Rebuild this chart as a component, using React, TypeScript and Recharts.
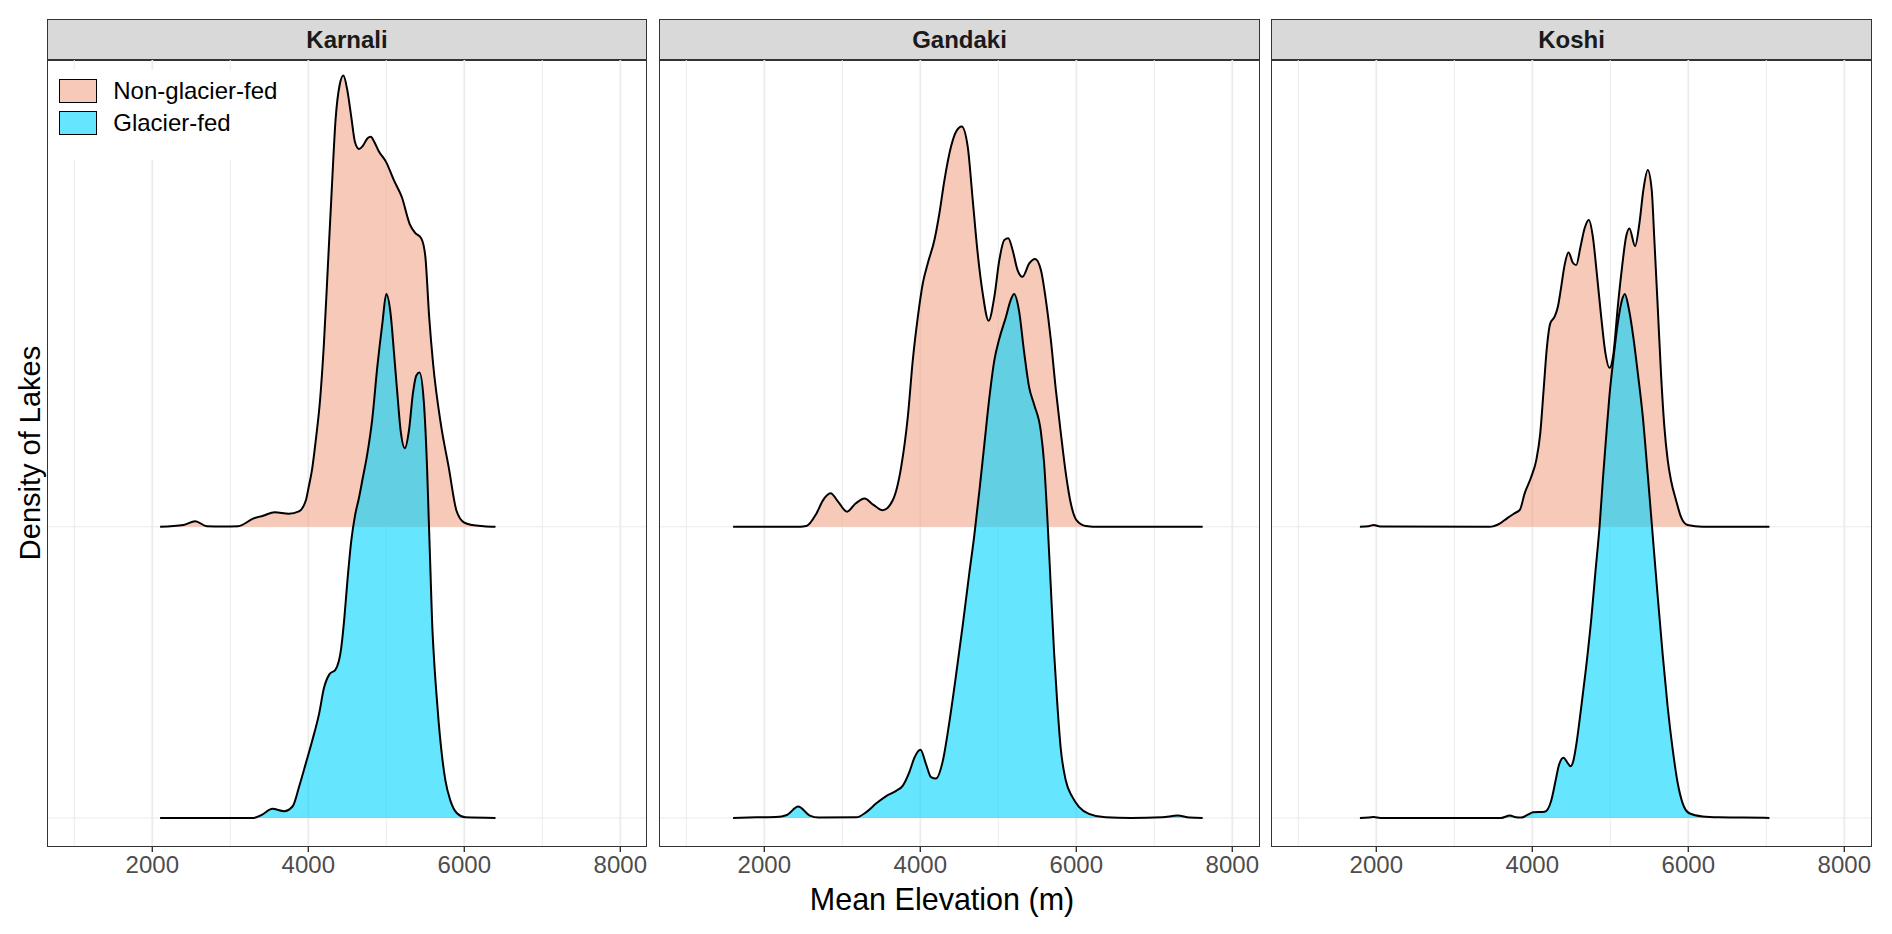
import { ComposedChart, Area, XAxis, YAxis, CartesianGrid } from 'recharts';

const FONT = 'Arial, "Liberation Sans", Helvetica, sans-serif';
const NON_GLACIER = '#F0A58A';
const GLACIER = '#00D4FF';
const FILL_ALPHA = 0.6;

// [elevation (m), scaled density]
const KARNALI_NON_GLACIER: [number, number][] = [
  [2100, 0], [2400, 0.006], [2550, 0.019], [2700, 0.002], [2900, 0.001], [3100, 0.002],
  [3300, 0.029], [3420, 0.038], [3570, 0.05], [3750, 0.045], [3880, 0.053], [3970, 0.092],
  [4000, 0.13], [4050, 0.2], [4100, 0.307], [4150, 0.433], [4200, 0.628], [4250, 0.89],
  [4300, 1.155], [4350, 1.4], [4400, 1.515], [4450, 1.55], [4500, 1.5], [4550, 1.41],
  [4600, 1.32], [4650, 1.298], [4700, 1.309], [4760, 1.335], [4800, 1.34], [4850, 1.32],
  [4900, 1.292], [5000, 1.252], [5100, 1.189], [5200, 1.132], [5300, 1.04], [5370, 1.01],
  [5450, 0.99], [5500, 0.93], [5550, 0.72], [5600, 0.56], [5700, 0.352], [5800, 0.205],
  [5900, 0.055], [6000, 0.014], [6100, 0.006], [6250, 0.002], [6400, 0],
];
const KARNALI_GLACIER: [number, number][] = [
  [2100, 0], [3300, 0], [3400, 0.01], [3540, 0.031], [3690, 0.023], [3800, 0.04],
  [3880, 0.105], [3970, 0.189], [4050, 0.265], [4140, 0.36], [4200, 0.445], [4270, 0.493],
  [4350, 0.51], [4420, 0.58], [4460, 0.68], [4500, 0.81], [4550, 0.95], [4600, 1.04],
  [4650, 1.1], [4700, 1.17], [4750, 1.24], [4820, 1.37], [4885, 1.55], [4950, 1.7],
  [5000, 1.8], [5056, 1.73], [5098, 1.6], [5141, 1.46], [5184, 1.33], [5238, 1.27],
  [5290, 1.33], [5342, 1.46], [5385, 1.52], [5426, 1.53], [5481, 1.43], [5523, 1.2],
  [5545, 1.02], [5566, 0.85], [5587, 0.675], [5609, 0.56], [5638, 0.443], [5672, 0.327],
  [5715, 0.211], [5757, 0.13], [5821, 0.06], [5906, 0.016], [6013, 0.002], [6400, 0],
];

const GANDAKI_NON_GLACIER: [number, number][] = [
  [1600, 0], [2400, 0], [2540, 0.003], [2667, 0.045], [2750, 0.09], [2850, 0.115],
  [2950, 0.085], [3060, 0.052], [3170, 0.08], [3286, 0.097], [3400, 0.075], [3520, 0.057],
  [3648, 0.092], [3755, 0.206], [3840, 0.378], [3904, 0.573], [3968, 0.72], [4032, 0.836],
  [4096, 0.905], [4181, 0.985], [4245, 1.077], [4309, 1.19], [4394, 1.306], [4458, 1.357],
  [4531, 1.375], [4608, 1.306], [4672, 1.123], [4736, 0.939], [4800, 0.802], [4876, 0.708],
  [4949, 0.79], [5013, 0.916], [5077, 0.985], [5128, 0.991], [5183, 0.951], [5247, 0.882],
  [5311, 0.859], [5397, 0.905], [5473, 0.92], [5546, 0.882], [5610, 0.779], [5674, 0.641],
  [5738, 0.47], [5802, 0.321], [5866, 0.183], [5930, 0.08], [6002, 0.023], [6121, 0.003],
  [6300, 0], [7620, 0],
];
const GANDAKI_GLACIER: [number, number][] = [
  [1600, 0], [1900, 0.002], [2150, 0.003], [2290, 0.01], [2434, 0.039], [2583, 0.008],
  [2700, 0.001], [3180, 0.002], [3308, 0.02], [3436, 0.05], [3563, 0.075], [3691, 0.093],
  [3776, 0.111], [3862, 0.159], [3925, 0.207], [4002, 0.234], [4075, 0.183], [4138, 0.14],
  [4200, 0.135], [4288, 0.195], [4373, 0.33], [4458, 0.49], [4543, 0.66], [4628, 0.84],
  [4692, 0.97], [4756, 1.12], [4820, 1.28], [4884, 1.44], [4948, 1.57], [5012, 1.645],
  [5097, 1.72], [5161, 1.78], [5203, 1.8], [5267, 1.74], [5331, 1.6], [5395, 1.48],
  [5459, 1.42], [5544, 1.33], [5587, 1.22], [5629, 1.03], [5672, 0.8], [5715, 0.57],
  [5757, 0.39], [5800, 0.24], [5864, 0.13], [5949, 0.072], [6034, 0.038], [6162, 0.014],
  [6375, 0.002], [6700, 0], [7100, 0.002], [7300, 0.008], [7450, 0.001], [7620, 0],
];

const KOSHI_NON_GLACIER: [number, number][] = [
  [1790, 0], [1900, 0.002], [1966, 0.006], [2050, 0.001], [3450, 0], [3582, 0.011],
  [3680, 0.03], [3776, 0.047], [3840, 0.058], [3902, 0.115], [3987, 0.172], [4051, 0.229],
  [4102, 0.321], [4145, 0.47], [4188, 0.619], [4230, 0.699], [4286, 0.722], [4328, 0.756],
  [4371, 0.825], [4414, 0.899], [4465, 0.942], [4520, 0.907], [4563, 0.899], [4618, 0.962],
  [4670, 1.025], [4725, 1.054], [4776, 0.997], [4827, 0.871], [4883, 0.722], [4938, 0.596],
  [4989, 0.546], [5041, 0.596], [5096, 0.756], [5151, 0.893], [5203, 0.997], [5245, 1.025],
  [5318, 0.964], [5373, 1.042], [5424, 1.157], [5480, 1.226], [5531, 1.157], [5565, 0.985],
  [5608, 0.756], [5650, 0.527], [5693, 0.344], [5736, 0.229], [5778, 0.16], [5842, 0.092],
  [5906, 0.034], [5991, 0.006], [6183, 0], [7040, 0],
];
const KOSHI_GLACIER: [number, number][] = [
  [1790, 0], [1900, 0.001], [1966, 0.003], [2050, 0], [3600, 0], [3712, 0.008],
  [3790, 0.002], [3861, 0.001], [3950, 0.012], [4009, 0.019], [4158, 0.021], [4243, 0.06],
  [4300, 0.13], [4340, 0.18], [4400, 0.207], [4450, 0.19], [4490, 0.177], [4530, 0.2],
  [4563, 0.25], [4627, 0.38], [4691, 0.52], [4755, 0.68], [4811, 0.85], [4862, 1.0],
  [4904, 1.16], [4947, 1.31], [4989, 1.45], [5041, 1.58], [5096, 1.7], [5151, 1.78],
  [5186, 1.8], [5237, 1.75], [5296, 1.65], [5352, 1.53], [5416, 1.38], [5480, 1.18],
  [5544, 0.97], [5608, 0.76], [5672, 0.56], [5736, 0.38], [5800, 0.235], [5864, 0.12],
  [5928, 0.05], [6013, 0.016], [6183, 0.005], [6396, 0.002], [6700, 0.001], [7040, 0],
];

const BASINS = ['Karnali', 'Gandaki', 'Koshi'];
const NON_GLACIER_SERIES = [KARNALI_NON_GLACIER, GANDAKI_NON_GLACIER, KOSHI_NON_GLACIER];
const GLACIER_SERIES = [KARNALI_GLACIER, GANDAKI_GLACIER, KOSHI_GLACIER];
const LEGEND_LABELS = ['Non-glacier-fed', 'Glacier-fed'];

const X_TICKS = [2000, 4000, 6000, 8000];
const X_MINOR = [1000, 3000, 5000, 7000];
const RIDGE_BASES = [0, 1];

// layout (px)
const PANEL_LEFT = [46.7, 659.2, 1271.2];
const PANEL_W = 600.6;
const STRIP_TOP = 19.3;
const PLOT_TOP = 59.3;
const PLOT_H = 788;
const AXIS_H = 50;
const BORDER = '1.4px solid #333333';

const toRows = (points: [number, number][], base: number) =>
  points.map(([x, d]) => ({ x, y: base + d }));

function Panel({ idx }: { idx: number }) {
  const left = PANEL_LEFT[idx];
  return (
    <>
      <div
        style={{
          position: 'absolute',
          left,
          top: STRIP_TOP,
          width: PANEL_W,
          height: PLOT_TOP - STRIP_TOP + 1.4,
          boxSizing: 'border-box',
          border: BORDER,
          background: '#D9D9D9',
          display: 'flex',
          alignItems: 'center',
          justifyContent: 'center',
          fontWeight: 700,
          fontSize: 24,
          color: '#1A1A1A',
        }}
      >
        {BASINS[idx]}
      </div>
      <div style={{ position: 'absolute', left, top: PLOT_TOP }}>
        <ComposedChart
          width={PANEL_W}
          height={PLOT_H + AXIS_H}
          margin={{ top: 0, right: 0, bottom: 0, left: 0 }}
        >
          <CartesianGrid
            horizontalValues={RIDGE_BASES}
            verticalValues={X_MINOR}
            stroke="#EBEBEB"
            strokeWidth={1}
          />
          <CartesianGrid
            horizontal={false}
            verticalValues={X_TICKS}
            stroke="#EBEBEB"
            strokeWidth={1.8}
          />
          <XAxis
            type="number"
            dataKey="x"
            domain={[650, 8350]}
            ticks={X_TICKS}
            interval={0}
            allowDataOverflow
            height={AXIS_H}
            axisLine={false}
            tickLine={{ stroke: '#333333', strokeWidth: 1.4 }}
            tickSize={5}
            tickMargin={4}
            tick={{ fill: '#4D4D4D', fontSize: 24, fontFamily: FONT }}
          />
          <YAxis type="number" domain={[-0.1, 2.607]} allowDataOverflow hide />
          <Area
            data={toRows(NON_GLACIER_SERIES[idx], 1)}
            dataKey="y"
            baseValue={1}
            type="monotone"
            stroke="#000000"
            strokeWidth={2}
            fill={NON_GLACIER}
            fillOpacity={FILL_ALPHA}
            dot={false}
            activeDot={false}
            isAnimationActive={false}
          />
          <Area
            data={toRows(GLACIER_SERIES[idx], 0)}
            dataKey="y"
            baseValue={0}
            type="monotone"
            stroke="#000000"
            strokeWidth={2}
            fill={GLACIER}
            fillOpacity={FILL_ALPHA}
            dot={false}
            activeDot={false}
            isAnimationActive={false}
          />
        </ComposedChart>
      </div>
      <div
        style={{
          position: 'absolute',
          left,
          top: PLOT_TOP,
          width: PANEL_W,
          height: PLOT_H,
          boxSizing: 'border-box',
          border: BORDER,
          pointerEvents: 'none',
        }}
      />
    </>
  );
}

function Legend() {
  const fills = [NON_GLACIER, GLACIER];
  return (
    <div
      style={{
        position: 'absolute',
        left: 48.2,
        top: 70,
        width: 242,
        height: 90,
        background: '#FFFFFF',
      }}
    >
      {LEGEND_LABELS.map((label, i) => (
        <div
          key={label}
          style={{
            position: 'absolute',
            left: 0,
            top: 9 + i * 31.7,
            height: 24.3,
            display: 'flex',
            alignItems: 'center',
            whiteSpace: 'nowrap',
          }}
        >
          <div
            style={{
              marginLeft: 10.8,
              width: 37.7,
              height: 24.3,
              boxSizing: 'border-box',
              border: '1.6px solid #000000',
              background: '#FFFFFF',
              position: 'relative',
            }}
          >
            <div
              style={{
                position: 'absolute',
                inset: 0,
                background: fills[i],
                opacity: FILL_ALPHA,
              }}
            />
          </div>
          <span style={{ marginLeft: 16.6, fontSize: 24, color: '#000000' }}>{label}</span>
        </div>
      ))}
    </div>
  );
}

export default function App() {
  return (
    <div
      style={{
        position: 'absolute',
        left: 0,
        top: 0,
        width: 1892,
        height: 934,
        background: '#FFFFFF',
        fontFamily: FONT,
        overflow: 'hidden',
      }}
    >
      {BASINS.map((_, i) => (
        <Panel key={i} idx={i} />
      ))}
      <Legend />
      <div
        style={{
          position: 'absolute',
          left: 30,
          top: 452.5,
          transform: 'translate(-50%, -50%) rotate(-90deg)',
          whiteSpace: 'nowrap',
          fontSize: 29,
          color: '#000000',
        }}
      >
        Density of Lakes
      </div>
      <div
        style={{
          position: 'absolute',
          left: 942,
          top: 899,
          transform: 'translate(-50%, -50%)',
          whiteSpace: 'nowrap',
          fontSize: 30.5,
          color: '#000000',
        }}
      >
        Mean Elevation (m)
      </div>
    </div>
  );
}
